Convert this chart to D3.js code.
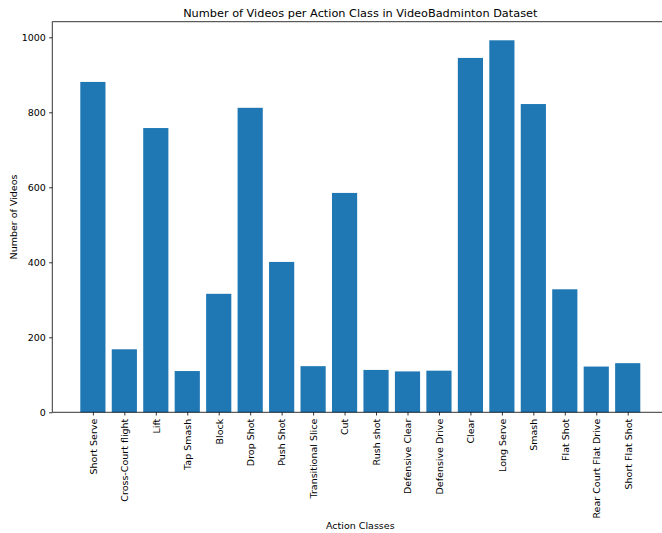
<!DOCTYPE html>
<html>
<head>
<meta charset="utf-8">
<script src="https://cdn.jsdelivr.net/npm/d3@7"></script>
<style>
  html, body { margin: 0; padding: 0; background: #fff; }
  svg { display: block; font-family: "DejaVu Sans", sans-serif; }
</style>
</head>
<body>
<svg id="chart" width="662" height="533"></svg>
<script>
const categories = ["Short Serve","Cross-Court flight","Lift","Tap Smash","Block","Drop Shot","Push Shot","Transitional Slice","Cut","Rush shot","Defensive Clear","Defensive Drive","Clear","Long Serve","Smash","Flat Shot","Rear Court Flat Drive","Short Flat Shot"];
const counts = [881, 168, 758, 110, 316, 812, 401, 123, 585, 113, 109, 111, 945, 992, 822, 328, 122, 131];
const yTicks = [0, 200, 400, 600, 800, 1000];

(function () {
const svg = d3.select("#chart");
const mLeft = 52.3, mRight = 668.3, mTop = 21.7, mBottom = 412.3;
const fs = 9.5;

const n = categories.length;
const pad = 0.05 * (n - 1 + 0.8);
const x = d3.scaleLinear().domain([-0.4 - pad, n - 1 + 0.4 + pad]).range([mLeft, mRight]);
const y = d3.scaleLinear().domain([0, d3.max(counts) * 1.05]).range([mBottom, mTop]);
const bw = x(0.8) - x(0);

svg.append("g").selectAll("rect").data(counts).join("rect")
  .attr("x", (d, i) => x(i - 0.4))
  .attr("width", bw)
  .attr("y", d => y(d))
  .attr("height", d => y(0) - y(d))
  .attr("fill", "#1f77b4");

const spine = svg.append("g").attr("stroke", "#000").attr("stroke-width", 0.8).attr("fill", "none");
spine.append("line").attr("x1", mLeft).attr("x2", mRight).attr("y1", mTop).attr("y2", mTop);
spine.append("line").attr("x1", mLeft).attr("x2", mRight).attr("y1", mBottom).attr("y2", mBottom);
spine.append("line").attr("x1", mLeft).attr("x2", mLeft).attr("y1", mTop).attr("y2", mBottom);
spine.append("line").attr("x1", mRight).attr("x2", mRight).attr("y1", mTop).attr("y2", mBottom);

const yAxis = d3.axisLeft(y).tickValues(yTicks).tickFormat(d3.format("d")).tickSize(3.2).tickPadding(3.2);
const gy = svg.append("g").attr("transform", `translate(${mLeft},0)`).call(yAxis);
gy.select(".domain").remove();
gy.selectAll("line").attr("stroke-width", 0.8);
gy.selectAll("text").attr("font-size", fs).attr("font-family", "DejaVu Sans").attr("fill", "#000");

const xAxis = d3.axisBottom(x).tickValues(d3.range(n)).tickFormat(i => categories[i]).tickSize(3.2).tickPadding(3.2);
const gx = svg.append("g").attr("transform", `translate(0,${mBottom})`).call(xAxis);
gx.select(".domain").remove();
gx.selectAll("line").attr("stroke-width", 0.8);
gx.selectAll("text")
  .attr("font-size", fs).attr("font-family", "DejaVu Sans").attr("fill", "#000")
  .attr("transform", "rotate(-90)")
  .attr("text-anchor", "end")
  .attr("x", -6.4)
  .attr("y", 0)
  .attr("dy", "0.35em");

svg.append("text").attr("x", (mLeft + mRight) / 2).attr("y", 17)
  .attr("text-anchor", "middle").attr("font-size", 11.3).attr("fill", "#000")
  .text("Number of Videos per Action Class in VideoBadminton Dataset");
svg.append("text").attr("x", (mLeft + mRight) / 2).attr("y", 529)
  .attr("text-anchor", "middle").attr("font-size", fs).attr("fill", "#000")
  .text("Action Classes");
svg.append("text").attr("transform", `translate(17,${(mTop + mBottom) / 2}) rotate(-90)`)
  .attr("text-anchor", "middle").attr("font-size", fs).attr("fill", "#000")
  .text("Number of Videos");
})();
</script>
</body>
</html>
